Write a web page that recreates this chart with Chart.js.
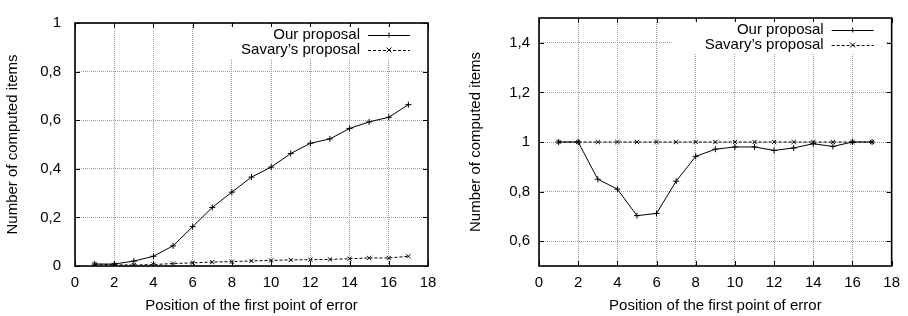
<!DOCTYPE html>
<html>
<head>
<meta charset="utf-8">
<script src="https://cdn.jsdelivr.net/npm/chart.js@4/dist/chart.umd.min.js"></script>
<style>
  html, body { margin: 0; padding: 0; background: #fff; }
  .wrap { position: absolute; top: 0; width: 454px; height: 316px; }
</style>
</head>
<body>
<div class="wrap" style="left:0"><canvas id="left" width="454" height="316"></canvas></div>
<div class="wrap" style="left:454px"><canvas id="right" width="454" height="316"></canvas></div>
<script>
// positions of the first point of error
const positions = [1, 2, 3, 4, 5, 6, 7, 8, 9, 10, 11, 12, 13, 14, 15, 16, 17];

// left chart
const oursLeft = [0.008, 0.008, 0.02, 0.04, 0.083, 0.162, 0.241, 0.304, 0.366, 0.407, 0.463, 0.505, 0.523, 0.566, 0.593, 0.612, 0.664];
const savaryLeft = [0.008, 0.005, 0.004, 0.006, 0.01, 0.013, 0.016, 0.018, 0.021, 0.023, 0.025, 0.026, 0.027, 0.03, 0.033, 0.033, 0.04];

// right chart
const oursRight = [1.0, 1.0, 0.85, 0.81, 0.703, 0.712, 0.842, 0.942, 0.971, 0.98, 0.98, 0.966, 0.976, 0.993, 0.982, 1.0, 1.0];
const savaryRight = [1, 1, 1, 1, 1, 1, 1, 1, 1, 1, 1, 1, 1, 1, 1, 1, 1];

const xTicks = [0, 2, 4, 6, 8, 10, 12, 14, 16, 18];
const yTicksLeft = [0, 0.2, 0.4, 0.6, 0.8, 1];
const yTicksRight = [0.6, 0.8, 1, 1.2, 1.4];

const legendLabels = ['Our proposal', "Savary\u2019s proposal"];
const FONT = 'Liberation Sans, Arial, Helvetica, sans-serif';

const fmt = v => String(Math.round(v * 10) / 10).replace('.', ',');

// black frame + gnuplot style inward ticks
const framePlugin = {
  id: 'frame',
  afterDatasetsDraw(chart) {
    const { ctx, chartArea: a, scales } = chart;
    ctx.save();
    ctx.strokeStyle = '#000';
    ctx.lineWidth = 1;
    ctx.beginPath();
    scales.x.ticks.forEach(t => {
      const px = Math.round(scales.x.getPixelForValue(t.value)) + 0.5;
      ctx.moveTo(px, a.bottom); ctx.lineTo(px, a.bottom - 5);
      ctx.moveTo(px, a.top); ctx.lineTo(px, a.top + 5);
    });
    scales.y.ticks.forEach(t => {
      const py = Math.round(scales.y.getPixelForValue(t.value)) + 0.5;
      ctx.moveTo(a.left, py); ctx.lineTo(a.left + 5, py);
      ctx.moveTo(a.right, py); ctx.lineTo(a.right - 5, py);
    });
    ctx.stroke();
    ctx.lineWidth = 1.6;
    ctx.strokeRect(a.left, a.top, a.right - a.left, a.bottom - a.top);
    ctx.restore();
  }
};

// key in the top right corner, white box over the grid
const keyPlugin = {
  id: 'key',
  afterDraw(chart) {
    const { ctx, chartArea: a } = chart;
    const ds = chart.data.datasets;
    ctx.save();
    ctx.fillStyle = '#fff';
    ctx.fillRect(a.right - 220, a.top + 4, 215, 31);
    ctx.font = '15px ' + FONT;
    ctx.textAlign = 'right';
    ctx.textBaseline = 'middle';
    [a.top + 12, a.top + 27].forEach((y, i) => {
      ctx.fillStyle = '#000';
      ctx.fillText(legendLabels[i], a.right - 68, y);
      ctx.strokeStyle = '#000';
      ctx.lineWidth = 1;
      ctx.setLineDash(ds[i].borderDash || []);
      ctx.beginPath();
      ctx.moveTo(a.right - 60, y + 0.5);
      ctx.lineTo(a.right - 18, y + 0.5);
      ctx.stroke();
      ctx.setLineDash([]);
      const cx = a.right - 39, r = 2.5;
      ctx.beginPath();
      if (i === 0) {
        ctx.moveTo(cx - r, y + 0.5); ctx.lineTo(cx + r, y + 0.5);
        ctx.moveTo(cx, y - r); ctx.lineTo(cx, y + r);
      } else {
        ctx.moveTo(cx - r, y - r); ctx.lineTo(cx + r, y + r);
        ctx.moveTo(cx - r, y + r); ctx.lineTo(cx + r, y - r);
      }
      ctx.stroke();
    });
    ctx.restore();
  }
};

function makeChart(id, ours, savary, yMin, yMax, yTicks, yWidth, padRight, titlePad, tickPad) {
  const ctx = document.getElementById(id).getContext('2d');
  return new Chart(ctx, {
    type: 'line',
    data: {
      datasets: [{
        label: legendLabels[0],
        data: positions.map((p, i) => ({ x: p, y: ours[i] })),
        borderColor: '#000',
        backgroundColor: '#000',
        borderWidth: 1,
        pointStyle: 'cross',
        pointRadius: 3,
        pointBorderWidth: 1,
        tension: 0
      }, {
        label: legendLabels[1],
        data: positions.map((p, i) => ({ x: p, y: savary[i] })),
        borderColor: '#000',
        backgroundColor: '#000',
        borderWidth: 1,
        borderDash: [3, 2],
        pointStyle: 'crossRot',
        pointRadius: 3,
        pointBorderWidth: 1,
        tension: 0
      }]
    },
    options: {
      responsive: false,
      animation: false,
      devicePixelRatio: 1,
      layout: { padding: { top: 10, right: padRight, left: 0, bottom: 0 } },
      plugins: { legend: { display: false }, tooltip: { enabled: false } },
      scales: {
        x: {
          type: 'linear',
          min: 0,
          max: 18,
          afterBuildTicks: s => { s.ticks = xTicks.map(v => ({ value: v })); },
          afterFit: s => { s.height = 50; },
          grid: { color: '#9a9a9a', lineWidth: 1, drawTicks: false },
          border: { display: false, dash: [1, 1] },
          ticks: { color: '#000', padding: 8, font: { family: FONT, size: 15 }, maxRotation: 0 },
          title: {
            display: true,
            text: 'Position of the first point of error',
            color: '#000',
            font: { family: FONT, size: 15 },
            padding: { top: 0, bottom: 1 }
          }
        },
        y: {
          type: 'linear',
          min: yMin,
          max: yMax,
          afterBuildTicks: s => { s.ticks = yTicks.map(v => ({ value: v })); },
          afterFit: s => { s.width = yWidth; },
          grid: { color: '#9a9a9a', lineWidth: 1, drawTicks: false },
          border: { display: false, dash: [1, 1] },
          ticks: { color: '#000', padding: tickPad, font: { family: FONT, size: 15 }, callback: v => fmt(v) },
          title: {
            display: true,
            text: 'Number of computed items',
            color: '#000',
            font: { family: FONT, size: 15 },
            padding: { top: titlePad, bottom: 0 }
          }
        }
      }
    },
    plugins: [framePlugin, keyPlugin]
  });
}

makeChart('left', oursLeft, savaryLeft, 0, 1, yTicksLeft, 75, 26, 4, 14);
makeChart('right', oursRight, savaryRight, 0.5, 1.5, yTicksRight, 85, 16, 13, 9);
</script>
</body>
</html>
